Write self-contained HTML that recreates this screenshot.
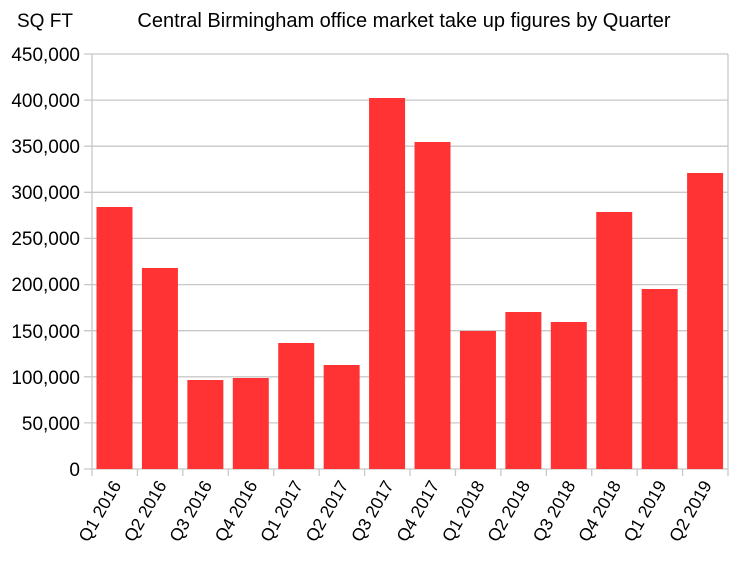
<!DOCTYPE html><html><head><style>body{margin:0;background:#fff}</style></head><body>
<svg width="745" height="561" xmlns="http://www.w3.org/2000/svg" font-family="Liberation Sans, sans-serif">
<rect width="745" height="561" fill="#fff"/>
<text x="17" y="27" font-size="19">SQ FT</text>
<text x="404" y="27" font-size="20" text-anchor="middle">Central Birmingham office market take up figures by Quarter</text>
<g stroke="#c8c8c8" stroke-width="1.3">
<line x1="84" y1="54" x2="728" y2="54"/><line x1="84" y1="100.1" x2="728" y2="100.1"/><line x1="84" y1="146.2" x2="728" y2="146.2"/><line x1="84" y1="192.3" x2="728" y2="192.3"/><line x1="84" y1="238.4" x2="728" y2="238.4"/><line x1="84" y1="284.6" x2="728" y2="284.6"/><line x1="84" y1="330.7" x2="728" y2="330.7"/><line x1="84" y1="376.8" x2="728" y2="376.8"/><line x1="84" y1="422.9" x2="728" y2="422.9"/><line x1="84" y1="469" x2="728" y2="469"/>
<line x1="92" y1="54" x2="92" y2="476"/><line x1="728" y1="54" x2="728" y2="476"/>
</g>
<g font-size="19" text-anchor="end">
<text x="80" y="61">450,000</text><text x="80" y="107">400,000</text><text x="80" y="153">350,000</text><text x="80" y="199">300,000</text><text x="80" y="245">250,000</text><text x="80" y="291">200,000</text><text x="80" y="338">150,000</text><text x="80" y="384">100,000</text><text x="80" y="430">50,000</text><text x="80" y="476">0</text>
</g>
<g id="bars" fill="#ff3333"></g>
<g id="ticks" stroke="#c8c8c8" stroke-width="1.3"></g>
<g id="labels" font-size="17.5" text-anchor="end"></g>
<script>
var tops=[207,268,380,378,343,365,98,142,331,312,322,212,289,173];
var labs=["Q1 2016","Q2 2016","Q3 2016","Q4 2016","Q1 2017","Q2 2017","Q3 2017","Q4 2017","Q1 2018","Q2 2018","Q3 2018","Q4 2018","Q1 2019","Q2 2019"];
var ns="http://www.w3.org/2000/svg",w=45.43;
for(var i=0;i<14;i++){var x=92+i*w;
var r=document.createElementNS(ns,"rect");r.setAttribute("x",x+4.5);r.setAttribute("y",tops[i]);r.setAttribute("width",36);r.setAttribute("height",469-tops[i]);document.getElementById("bars").appendChild(r);
if(i>0){var l=document.createElementNS(ns,"line");l.setAttribute("x1",x);l.setAttribute("x2",x);l.setAttribute("y1",469);l.setAttribute("y2",476);document.getElementById("ticks").appendChild(l);}
var t=document.createElementNS(ns,"text");var cx=x+w/2+7,cy=485;t.setAttribute("x",cx);t.setAttribute("y",cy);t.setAttribute("transform","rotate(-60 "+cx+" "+cy+")");t.textContent=labs[i];document.getElementById("labels").appendChild(t);}
</script>
</svg></body></html>
